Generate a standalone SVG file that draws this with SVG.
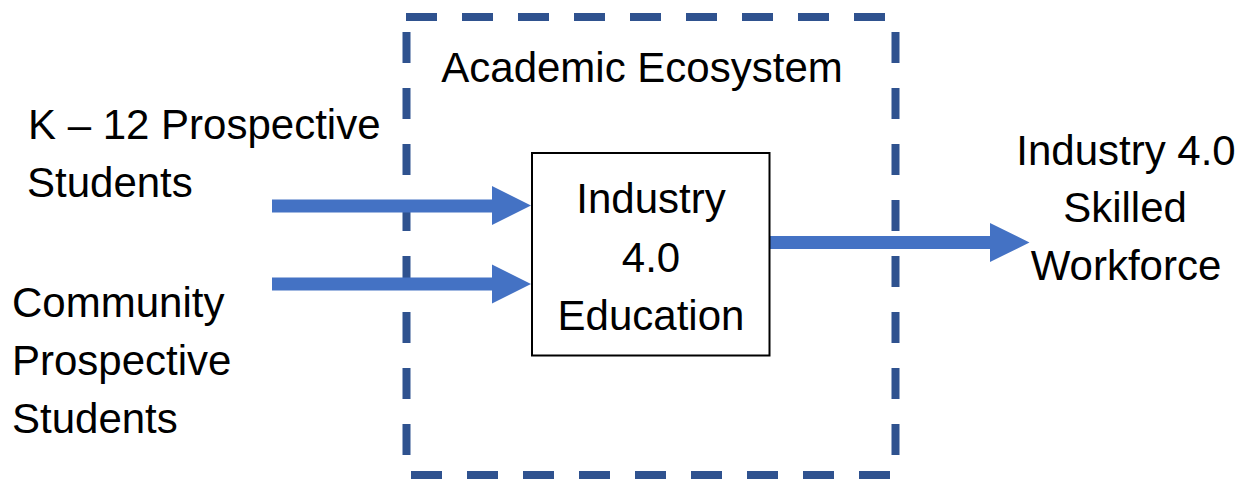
<svg xmlns="http://www.w3.org/2000/svg" width="1252" height="480" viewBox="0 0 1252 480">
  <style>
    .t { font-family: "Liberation Sans", Arial, sans-serif; font-size: 42px; fill: #000; }
    .c { text-anchor: middle; }
    .dash { stroke: #2F528F; stroke-width: 8; stroke-dasharray: 31 25; fill: none; }
    .arrow { fill: #4472C4; }
    .box { fill: #fff; stroke: #000; stroke-width: 2; }
  </style>
  <rect width="1252" height="480" fill="#fff"/>

  <g id="academic-ecosystem">
    <line class="dash" x1="406" y1="17" x2="887" y2="17"/>
    <line class="dash" x1="406.5" y1="32" x2="406.5" y2="456"/>
    <line class="dash" x1="895.5" y1="32" x2="895.5" y2="456"/>
    <line class="dash" x1="411" y1="475" x2="892" y2="475"/>
    <text class="t c" x="642" y="82">Academic Ecosystem</text>
  </g>

  <g id="connectors">
    <polygon class="arrow" points="272,199.5 492,199.5 492,186 531,205.5 492,225 492,212.5 272,212.5"/>
    <polygon class="arrow" points="272,277.5 492,277.5 492,264.5 531,284 492,303.5 492,290.5 272,290.5"/>
    <polygon class="arrow" points="770,236 990,236 990,223 1029.5,242.5 990,262 990,249 770,249"/>
  </g>

  <g id="k12-students">
    <text class="t" x="28" y="139">K – 12 Prospective</text>
    <text class="t" x="27" y="197">Students</text>
  </g>

  <g id="community-students">
    <text class="t" x="12" y="317">Community</text>
    <text class="t" x="12" y="375">Prospective</text>
    <text class="t" x="12" y="433">Students</text>
  </g>

  <g id="industry-education">
    <rect class="box" x="532" y="153" width="237.5" height="202.5"/>
    <text class="t c" x="651" y="213">Industry</text>
    <text class="t c" x="651" y="272">4.0</text>
    <text class="t c" x="651" y="330">Education</text>
  </g>

  <g id="skilled-workforce">
    <text class="t c" x="1126" y="165">Industry 4.0</text>
    <text class="t c" x="1125" y="222">Skilled</text>
    <text class="t c" x="1126" y="280">Workforce</text>
  </g>
</svg>
